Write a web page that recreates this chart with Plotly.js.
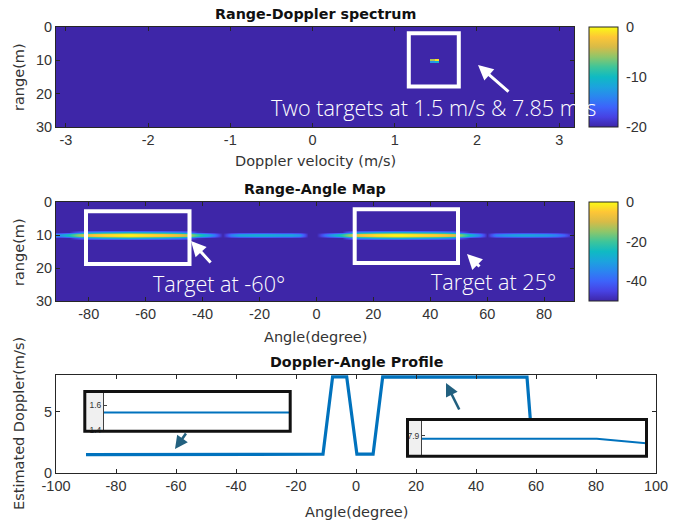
<!DOCTYPE html>
<html><head><meta charset="utf-8">
<script src="https://cdn.plot.ly/plotly-3.0.1.min.js"></script>
<style>html,body{margin:0;padding:0;background:#fff;}#chart{width:686px;height:524px;}</style>
</head><body><div id="chart"></div>
<script>
// ---------------- data ----------------
// Range-Doppler spectrum (dB), cell edges
const dopplerEdges = [-3.12, 1.434, 1.487, 1.539, 3.18];
const rdRangeEdges = [0, 9.66, 10.26, 10.87, 30];
const rdPower = [
  [-20, -20, -20, -20],
  [-20,  -5,  -1, -20],
  [-20, -13, -11, -20],
  [-20, -20, -20, -20]
];
// Range-Angle map: band at 10 m, angle profile (dB) every 3 deg from -90 to 90
const raFloor = -50;
const raProfile = [
  -32, -24, -15, -8, -5, -3, -2, -1, 0, -1,
  -2, -3, -4, -6, -8, -12, -20, -27, -36, -50,
  -36, -30, -29, -28, -28, -29, -30, -30, -33, -50,
  -50, -38, -30, -22, -12, -6, -4, -2, -1, 0,
  0, -1, -2, -3, -4, -6, -9, -16, -26, -34,
  -50, -36, -33, -31, -30, -30, -31, -32, -35, -40,
  -50
];
const raBandRanges = [9.0, 9.5, 10.0, 10.5, 11.0];
const raBandOffset = [-28, -4, 0, -4, -28];
// Doppler-Angle profile
const profileAngle   = [-90, -50, -50, -11, -7.8, -3.1, 0.3, 5.7, 8.9, 25, 25, 57, 58.1, 59.2, 90];
const profileDoppler = [1.50, 1.50, 1.54, 1.54, 7.85, 7.85, 1.54, 1.54, 7.85, 7.85, 7.83, 7.83, 4.4, 1.5, 1.5];
// tick labels
const rdTickVals = [-3, -2, -1, 0, 1, 2, 3];
const rdTickText = ['-3', '-2', '-1', '0', '1', '2', '3'];
const raTickVals = [-80, -60, -40, -20, 0, 20, 40, 60, 80];
const raTickText = ['-80', '-60', '-40', '-20', '0', '20', '40', '60', '80'];
const daTickVals = [-100, -80, -60, -40, -20, 0, 20, 40, 60, 80, 100];
const daTickText = ['-100', '-80', '-60', '-40', '-20', '0', '20', '40', '60', '80', '100'];
const rangeTicks = [0, 10, 20, 30];
const cb1Vals = [0, -10, -20], cb1Text = ['0', '-10', '-20'];
const cb2Vals = [0, -20, -40], cb2Text = ['0', '-20', '-40'];

// ---------------- helpers ----------------
const W = 686, H = 524;
const X = p => p / W;
const Y = p => 1 - p / H;

const parula = [
  [0.0, '#3E26A8'], [0.1, '#4742E3'], [0.2, '#3D63FA'], [0.3, '#2B85F0'],
  [0.4, '#1CA3DE'], [0.5, '#0FBAC3'], [0.6, '#3EC59A'], [0.7, '#8EC66A'],
  [0.8, '#D8BB47'], [0.9, '#FEC636'], [1.0, '#F9FB15']
];

// build range-angle matrix from profile
const raRows = 61, raStep = 0.5;
const raZ = [];
for (let r = 0; r < raRows; r++) {
  const rng = r * raStep;
  const bi = raBandRanges.findIndex(v => Math.abs(v - rng) < 1e-6);
  raZ.push(raProfile.map(v => bi < 0 ? raFloor : Math.max(raFloor, v + raBandOffset[bi])));
}

const tickFont = {family: 'Liberation Sans', size: 14.5, color: '#333'};
const axBase = {
  showline: true, linecolor: '#262626', linewidth: 1, mirror: 'allticks',
  ticks: 'inside', ticklen: 4, tickcolor: '#262626', tickwidth: 1,
  showgrid: false, zeroline: false, tickfont: tickFont, fixedrange: true
};

const traces = [
  {
    type: 'heatmap', x: dopplerEdges, y: rdRangeEdges, z: rdPower,
    xaxis: 'x', yaxis: 'y', colorscale: parula, zmin: -20, zmax: 0, zsmooth: false,
    hoverinfo: 'skip',
    colorbar: {
      x: X(589), xanchor: 'left', xpad: 0, ypad: 0, thickness: 29, thicknessmode: 'pixels',
      len: 100 / H, lenmode: 'fraction', y: Y(77), yanchor: 'middle',
      outlinewidth: 1, outlinecolor: '#262626',
      tickvals: cb1Vals, ticktext: cb1Text, ticks: 'outside', ticklen: 5, tickcolor: 'rgba(0,0,0,0)',
      tickfont: tickFont
    }
  },
  {
    type: 'heatmap', z: raZ, x0: -90, dx: 3, y0: 0, dy: raStep,
    xaxis: 'x2', yaxis: 'y2', colorscale: parula, zmin: -50, zmax: 0, zsmooth: 'best',
    hoverinfo: 'skip',
    colorbar: {
      x: X(589), xanchor: 'left', xpad: 0, ypad: 0, thickness: 29, thicknessmode: 'pixels',
      len: 99 / H, lenmode: 'fraction', y: Y(251.5), yanchor: 'middle',
      outlinewidth: 1, outlinecolor: '#262626',
      tickvals: cb2Vals, ticktext: cb2Text, ticks: 'outside', ticklen: 5, tickcolor: 'rgba(0,0,0,0)',
      tickfont: tickFont
    }
  },
  {
    type: 'scatter', mode: 'lines', x: profileAngle, y: profileDoppler,
    xaxis: 'x3', yaxis: 'y3', line: {color: '#0072BD', width: 3.2}, hoverinfo: 'skip'
  },
  {
    type: 'scatter', mode: 'lines', x: profileAngle, y: profileDoppler,
    xaxis: 'x4', yaxis: 'y4', line: {color: '#0072BD', width: 2}, hoverinfo: 'skip'
  },
  {
    type: 'scatter', mode: 'lines', x: profileAngle, y: profileDoppler,
    xaxis: 'x5', yaxis: 'y5', line: {color: '#0072BD', width: 2}, hoverinfo: 'skip'
  }
];

const insetY = {
  showline: true, linecolor: '#404040', linewidth: 1, mirror: false,
  ticks: 'inside', ticklen: 3, tickcolor: '#404040', showgrid: false, zeroline: false,
  tickfont: {family: 'Liberation Sans', size: 8.5, color: '#333'}, fixedrange: true
};
const insetX = {visible: false, fixedrange: true};

const layout = {
  width: W, height: H, margin: {l: 0, r: 0, t: 0, b: 0},
  paper_bgcolor: '#fff', plot_bgcolor: '#fff', showlegend: false,
  font: {family: 'Liberation Sans', color: '#333'},
  xaxis: Object.assign({}, axBase, {domain: [X(56), X(574)], range: [-3.12, 3.18], anchor: 'y',
    tickvals: rdTickVals, ticktext: rdTickText}),
  yaxis: Object.assign({}, axBase, {domain: [Y(127), Y(27)], range: [30, 0], anchor: 'x',
    tickvals: rangeTicks}),
  xaxis2: Object.assign({}, axBase, {domain: [X(56), X(574)], range: [-91.5, 90.5], anchor: 'y2',
    tickvals: raTickVals, ticktext: raTickText}),
  yaxis2: Object.assign({}, axBase, {domain: [Y(301), Y(202)], range: [30, 0], anchor: 'x2',
    tickvals: rangeTicks}),
  xaxis3: Object.assign({}, axBase, {domain: [X(56), X(656)], range: [-100, 100], anchor: 'y3',
    tickvals: daTickVals, ticktext: daTickText}),
  yaxis3: Object.assign({}, axBase, {domain: [Y(473), Y(375)], range: [0, 8], anchor: 'x3',
    tickvals: [0, 5]}),
  xaxis4: Object.assign({}, insetX, {domain: [X(104), X(289)], range: [-40, -20], anchor: 'y4'}),
  yaxis4: Object.assign({}, insetY, {domain: [Y(432), Y(391)], range: [1.384, 1.712], anchor: 'x4',
    tickvals: [1.4, 1.6], ticktext: ['1.4', '1.6']}),
  xaxis5: Object.assign({}, insetX, {domain: [X(422), X(646)], range: [56.865, 57.038], anchor: 'y5'}),
  yaxis5: Object.assign({}, insetY, {domain: [Y(456), Y(419)], range: [7.382, 8.34], anchor: 'x5',
    tickvals: [7.9], ticktext: ['7.9']}),
  shapes: [
    // white boxes
    {type: 'rect', xref: 'paper', yref: 'paper', x0: X(408.8), x1: X(458.8), y0: Y(33.3), y1: Y(86.5),
      line: {color: '#fff', width: 4}, layer: 'above'},
    {type: 'rect', xref: 'paper', yref: 'paper', x0: X(86), x1: X(189.5), y0: Y(211.3), y1: Y(264),
      line: {color: '#fff', width: 4}, layer: 'above'},
    {type: 'rect', xref: 'paper', yref: 'paper', x0: X(354.7), x1: X(458), y0: Y(209.3), y1: Y(263),
      line: {color: '#fff', width: 4}, layer: 'above'},
    // inset strips
    {type: 'rect', xref: 'paper', yref: 'paper', x0: X(83.5), x1: X(104), y0: Y(390), y1: Y(433),
      fillcolor: '#F0F0F0', line: {width: 0}, layer: 'below'},
    {type: 'rect', xref: 'paper', yref: 'paper', x0: X(406), x1: X(422), y0: Y(418), y1: Y(457),
      fillcolor: '#F0F0F0', line: {width: 0}, layer: 'below'},
    // inset borders
    {type: 'rect', xref: 'paper', yref: 'paper', x0: X(84.8), x1: X(290.2), y0: Y(391.5), y1: Y(431.2),
      line: {color: '#111', width: 3}, layer: 'above'},
    {type: 'rect', xref: 'paper', yref: 'paper', x0: X(407.5), x1: X(646.5), y0: Y(419.5), y1: Y(456.2),
      line: {color: '#111', width: 3}, layer: 'above'}
  ],
  annotations: []
};

const A = layout.annotations;
const titleFont = {family: 'DejaVu Sans', size: 14.3, color: '#111', weight: 'bold'};
const labFont = {family: 'DejaVu Sans', size: 14.5, color: '#333'};
const noteFont = {family: 'Open Sans', size: 21.6, color: '#fff', weight: 300};
function txt(x, y, text, font, extra) {
  A.push(Object.assign({xref: 'paper', yref: 'paper', x: X(x), y: Y(y), text: text, font: font,
    showarrow: false, xanchor: 'center', yanchor: 'middle'}, extra || {}));
}
function arrow(hx, hy, tx, ty, color, w) {
  A.push({xref: 'paper', yref: 'paper', x: X(hx), y: Y(hy), ax: tx - hx, ay: ty - hy, text: '',
    showarrow: true, arrowhead: 2, arrowsize: 1, arrowwidth: w, arrowcolor: color, standoff: 0, startstandoff: 0});
}
txt(315, 14, 'Range-Doppler spectrum', titleFont);
txt(315, 189, 'Range-Angle Map', titleFont);
txt(356, 362, 'Doppler-Angle Profile', titleFont);
txt(315, 161, 'Doppler velocity (m/s)', labFont);
txt(315, 337, 'Angle(degree)', labFont);
txt(356, 512, 'Angle(degree)', labFont);
txt(19, 77, 'range(m)', labFont, {textangle: -90});
txt(19, 252, 'range(m)', labFont, {textangle: -90});
txt(19, 424, 'Estimated Doppler(m/s)', labFont, {textangle: -90});
txt(269, 107.5, 'Two targets at 1.5 m/s &amp; 7.85 m/s', noteFont, {xanchor: 'left'});
txt(151, 283.5, 'Target at -60°', noteFont, {xanchor: 'left'});
txt(429, 281, 'Target at 25°', noteFont, {xanchor: 'left'});
arrow(478, 65, 510, 93, '#fff', 3);
arrow(191, 241, 212, 264, '#fff', 3);
arrow(467, 254, 481, 268, '#fff', 3);
arrow(175, 449, 187, 432, '#22607F', 2.6);
arrow(446, 383, 460, 411, '#22607F', 2.6);

Plotly.newPlot('chart', traces, layout, {staticPlot: true, displayModeBar: false});
</script></body></html>
